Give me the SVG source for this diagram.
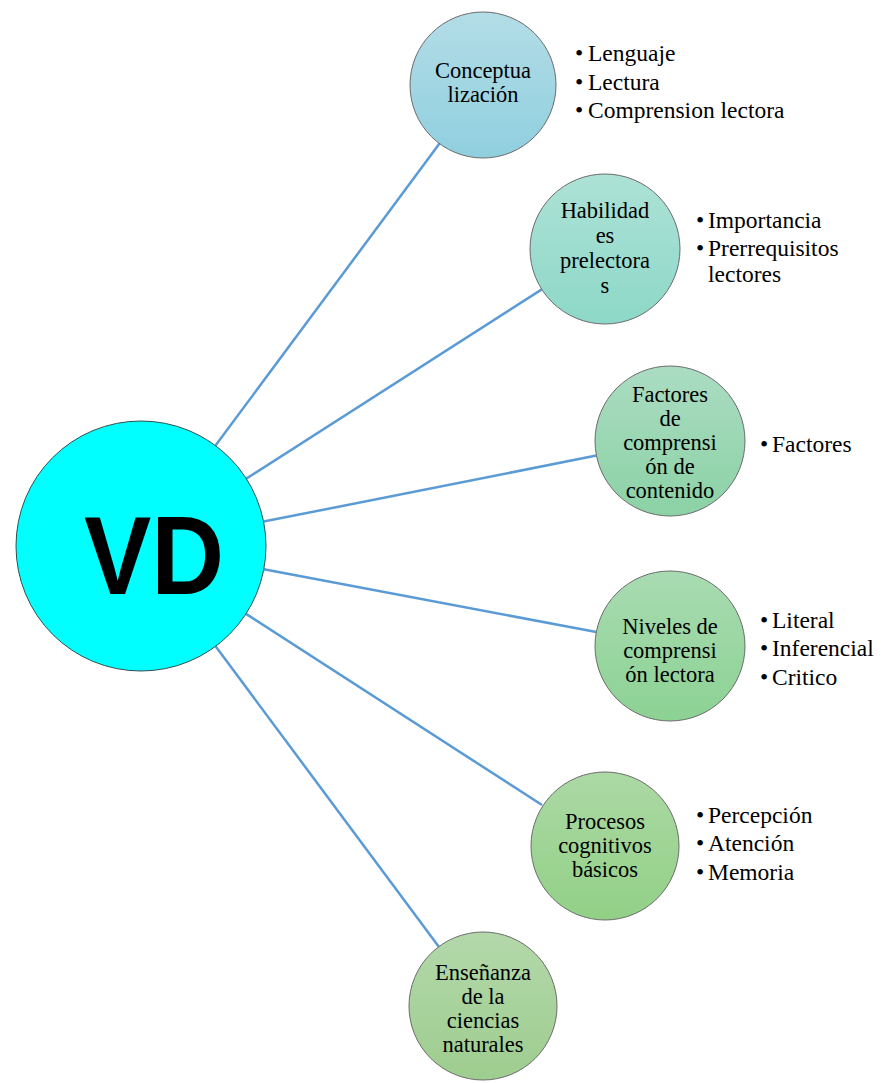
<svg xmlns="http://www.w3.org/2000/svg" width="882" height="1083" viewBox="0 0 882 1083">
  <style>
    .node { stroke: #6b6b6b; stroke-width: 1; }
    .lbl { font-family: "Liberation Serif", "Times New Roman", serif; font-size: 22.5px; fill: #000; text-anchor: middle; }
    .li { font-family: "Liberation Serif", "Times New Roman", serif; font-size: 23.5px; fill: #000; }
    .conn line { stroke: #5b9bd5; stroke-width: 2.5; stroke-linecap: butt; }
  </style>
  <defs>
    <linearGradient id="g1" x1="0" y1="0" x2="0" y2="1"><stop offset="0" stop-color="#b3dde7"/><stop offset="1" stop-color="#90cfdf"/></linearGradient>
    <linearGradient id="g2" x1="0" y1="0" x2="0" y2="1"><stop offset="0" stop-color="#ade2d6"/><stop offset="1" stop-color="#8dd8c8"/></linearGradient>
    <linearGradient id="g3" x1="0" y1="0" x2="0" y2="1"><stop offset="0" stop-color="#abdcc2"/><stop offset="1" stop-color="#8bd2a5"/></linearGradient>
    <linearGradient id="g4" x1="0" y1="0" x2="0" y2="1"><stop offset="0" stop-color="#a9dbb2"/><stop offset="1" stop-color="#8cd293"/></linearGradient>
    <linearGradient id="g5" x1="0" y1="0" x2="0" y2="1"><stop offset="0" stop-color="#acd9a5"/><stop offset="1" stop-color="#92d086"/></linearGradient>
    <linearGradient id="g6" x1="0" y1="0" x2="0" y2="1"><stop offset="0" stop-color="#b3d8aa"/><stop offset="1" stop-color="#9ecd8f"/></linearGradient>
  </defs>

  <rect width="882" height="1083" fill="#ffffff"/>

  <!-- spokes from the central node -->
  <g id="connectors" class="conn">
    <line x1="215.5" y1="445.6" x2="439.5" y2="143.6"/>
    <line x1="246.3" y1="478.6" x2="541.8" y2="289.4"/>
    <line x1="263.6" y1="521.6" x2="596.4" y2="455.6"/>
    <line x1="263.8" y1="569.2" x2="596.3" y2="632.1"/>
    <line x1="246.0" y1="613.9" x2="542.0" y2="805.0"/>
    <line x1="215.6" y1="646.3" x2="439.0" y2="947.0"/>
  </g>

  <g id="node-vd">
    <circle cx="141" cy="546" r="125" fill="#00ffff" stroke="#2f4f4f" stroke-width="1"/>
    <text x="84" y="594" font-family="Liberation Sans, Arial, sans-serif" font-weight="bold" font-size="111" textLength="140" lengthAdjust="spacingAndGlyphs" fill="#000">VD</text>
  </g>

  <g id="node-conceptualizacion">
    <circle class="node" cx="483" cy="85" r="73" fill="url(#g1)"/>
    <text class="lbl" x="483" y="78">Conceptua</text>
    <text class="lbl" x="483" y="102">lización</text>
  </g>

  <g id="node-habilidades">
    <circle class="node" cx="605" cy="249" r="75" fill="url(#g2)"/>
    <text class="lbl" x="605" y="218">Habilidad</text>
    <text class="lbl" x="605" y="243">es</text>
    <text class="lbl" x="605" y="268">prelectora</text>
    <text class="lbl" x="605" y="293">s</text>
  </g>

  <g id="node-factores">
    <circle class="node" cx="670" cy="441" r="75" fill="url(#g3)"/>
    <text class="lbl" x="670" y="402">Factores</text>
    <text class="lbl" x="670" y="426">de</text>
    <text class="lbl" x="670" y="450">comprensi</text>
    <text class="lbl" x="670" y="474">ón de</text>
    <text class="lbl" x="670" y="498">contenido</text>
  </g>

  <g id="node-niveles">
    <circle class="node" cx="670" cy="646" r="75" fill="url(#g4)"/>
    <text class="lbl" x="670" y="634">Niveles de</text>
    <text class="lbl" x="670" y="658">comprensi</text>
    <text class="lbl" x="670" y="682">ón lectora</text>
  </g>

  <g id="node-procesos">
    <circle class="node" cx="605" cy="846" r="74" fill="url(#g5)"/>
    <text class="lbl" x="605" y="829">Procesos</text>
    <text class="lbl" x="605" y="853">cognitivos</text>
    <text class="lbl" x="605" y="877">básicos</text>
  </g>

  <g id="node-ensenanza">
    <circle class="node" cx="483" cy="1006" r="74" fill="url(#g6)"/>
    <text class="lbl" x="483" y="980">Enseñanza</text>
    <text class="lbl" x="483" y="1004">de la</text>
    <text class="lbl" x="483" y="1028">ciencias</text>
    <text class="lbl" x="483" y="1052">naturales</text>
  </g>

  <!-- bullet lists beside the nodes -->
  <g id="list-conceptualizacion" class="li">
    <text x="575" y="61">•</text><text x="588" y="61">Lenguaje</text>
    <text x="575" y="90">•</text><text x="588" y="90">Lectura</text>
    <text x="575" y="118">•</text><text x="588" y="118">Comprension lectora</text>
  </g>

  <g id="list-habilidades" class="li">
    <text x="696" y="228">•</text><text x="708" y="228">Importancia</text>
    <text x="696" y="256">•</text><text x="708" y="256">Prerrequisitos</text>
    <text x="708" y="282">lectores</text>
  </g>

  <g id="list-factores" class="li">
    <text x="760" y="452">•</text><text x="772" y="452">Factores</text>
  </g>

  <g id="list-niveles" class="li">
    <text x="760" y="628">•</text><text x="772" y="628">Literal</text>
    <text x="760" y="656">•</text><text x="772" y="656">Inferencial</text>
    <text x="760" y="685">•</text><text x="772" y="685">Critico</text>
  </g>

  <g id="list-procesos" class="li">
    <text x="696" y="823">•</text><text x="708" y="823">Percepción</text>
    <text x="696" y="851">•</text><text x="708" y="851">Atención</text>
    <text x="696" y="880">•</text><text x="708" y="880">Memoria</text>
  </g>
</svg>
